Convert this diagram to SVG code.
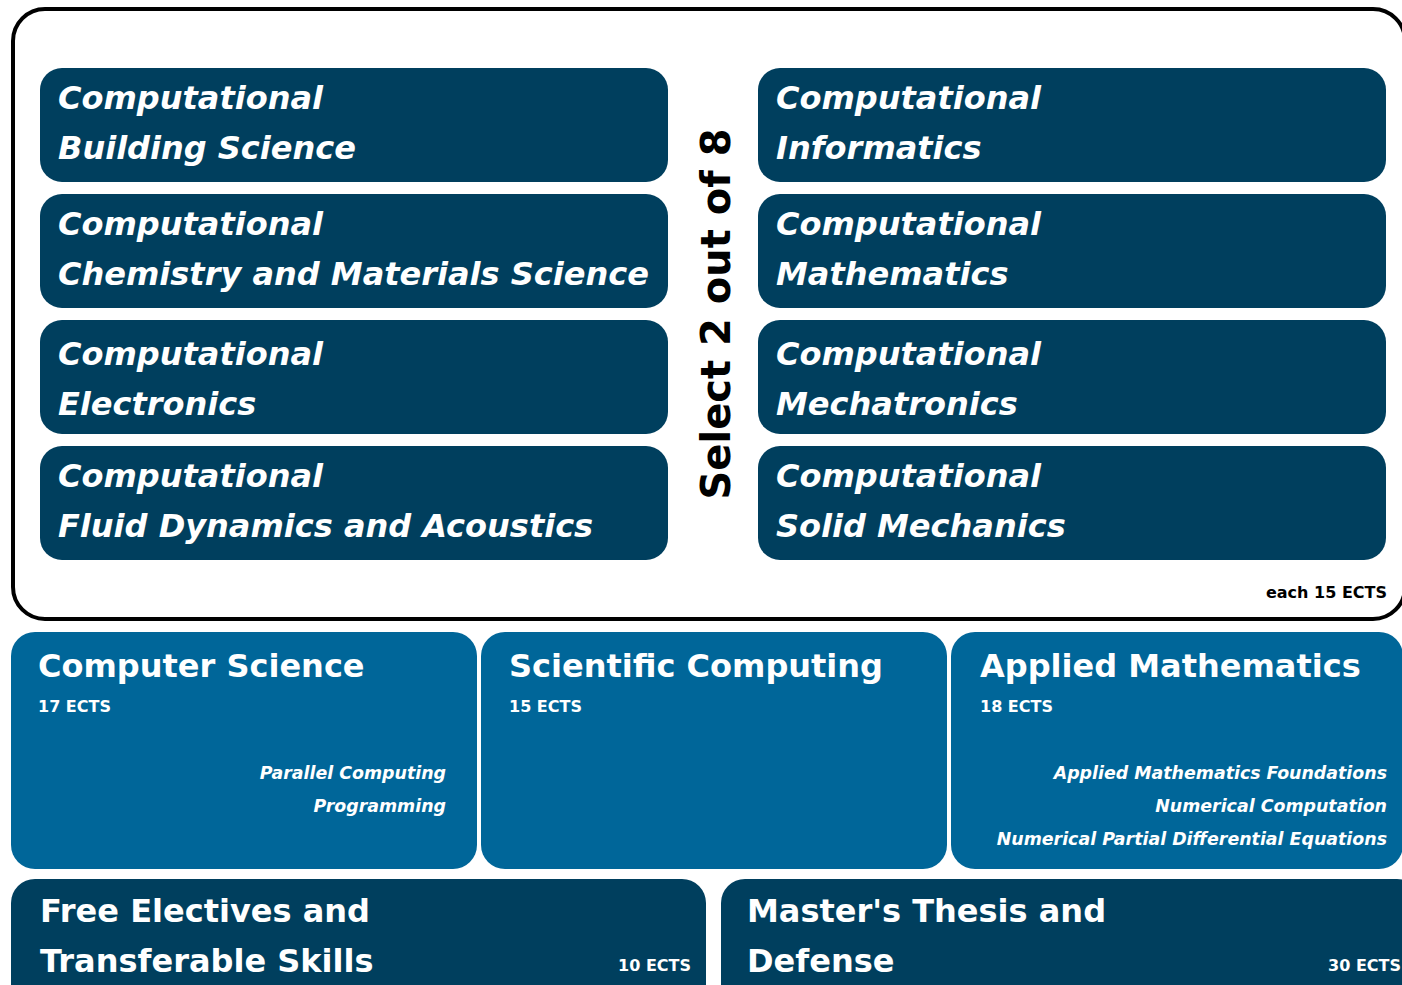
<svg xmlns="http://www.w3.org/2000/svg" width="1402" height="985" viewBox="0 0 1402 985">
  <style>
    text { font-family: "DejaVu Sans", "Liberation Sans", sans-serif; font-weight: bold; fill: #ffffff; }
    .track { fill: #003f5e; }
    .core { fill: #006699; }
    .ttl { font-size: 32px; font-style: italic; }
    .head { font-size: 32px; }
    .ects { font-size: 16px; }
    .course { font-size: 17.4px; font-style: italic; text-anchor: end; }
    .end { text-anchor: end; }
    .dark { fill: #000000; }
  </style>

  <rect width="1402" height="985" fill="#ffffff"/>

  <!-- elective frame -->
  <g id="electives-frame">
    <rect x="13" y="9" width="1392" height="610" rx="32" fill="none" stroke="#000000" stroke-width="4"/>
    <text class="dark" x="0" y="0" font-size="40" text-anchor="middle" transform="translate(730 314) rotate(-90)">Select 2 out of 8</text>
    <text class="dark ects end" x="1387" y="598">each 15 ECTS</text>
  </g>

  <!-- specialisation tracks, left column -->
  <g id="track-building">
    <rect class="track" x="40" y="68" width="628" height="114" rx="22"/>
    <text class="ttl" x="58" y="109">Computational</text>
    <text class="ttl" x="58" y="159">Building Science</text>
  </g>
  <g id="track-chemistry">
    <rect class="track" x="40" y="194" width="628" height="114" rx="22"/>
    <text class="ttl" x="58" y="235">Computational</text>
    <text class="ttl" x="58" y="285">Chemistry and Materials Science</text>
  </g>
  <g id="track-electronics">
    <rect class="track" x="40" y="320" width="628" height="114" rx="22"/>
    <text class="ttl" x="58" y="365">Computational</text>
    <text class="ttl" x="58" y="415">Electronics</text>
  </g>
  <g id="track-fluids">
    <rect class="track" x="40" y="446" width="628" height="114" rx="22"/>
    <text class="ttl" x="58" y="487">Computational</text>
    <text class="ttl" x="58" y="537">Fluid Dynamics and Acoustics</text>
  </g>

  <!-- specialisation tracks, right column -->
  <g id="track-informatics">
    <rect class="track" x="758" y="68" width="628" height="114" rx="22"/>
    <text class="ttl" x="776" y="109">Computational</text>
    <text class="ttl" x="776" y="159">Informatics</text>
  </g>
  <g id="track-mathematics">
    <rect class="track" x="758" y="194" width="628" height="114" rx="22"/>
    <text class="ttl" x="776" y="235">Computational</text>
    <text class="ttl" x="776" y="285">Mathematics</text>
  </g>
  <g id="track-mechatronics">
    <rect class="track" x="758" y="320" width="628" height="114" rx="22"/>
    <text class="ttl" x="776" y="365">Computational</text>
    <text class="ttl" x="776" y="415">Mechatronics</text>
  </g>
  <g id="track-solids">
    <rect class="track" x="758" y="446" width="628" height="114" rx="22"/>
    <text class="ttl" x="776" y="487">Computational</text>
    <text class="ttl" x="776" y="537">Solid Mechanics</text>
  </g>

  <!-- core modules -->
  <g id="core-cs">
    <rect class="core" x="11" y="632" width="466" height="237" rx="24"/>
    <text class="head" x="38" y="677">Computer Science</text>
    <text class="ects" x="38" y="712">17 ECTS</text>
    <text class="course" x="446" y="779">Parallel Computing</text>
    <text class="course" x="446" y="812">Programming</text>
  </g>
  <g id="core-sc">
    <rect class="core" x="481" y="632" width="466" height="237" rx="24"/>
    <text class="head" x="509" y="677">Scientific Computing</text>
    <text class="ects" x="509" y="712">15 ECTS</text>
  </g>
  <g id="core-am">
    <rect class="core" x="951" y="632" width="452" height="237" rx="24"/>
    <text class="head" x="980" y="677">Applied Mathematics</text>
    <text class="ects" x="980" y="712">18 ECTS</text>
    <text class="course" x="1387" y="779">Applied Mathematics Foundations</text>
    <text class="course" x="1387" y="812">Numerical Computation</text>
    <text class="course" x="1387" y="845">Numerical Partial Differential Equations</text>
  </g>

  <!-- remaining modules -->
  <g id="free-electives">
    <rect class="track" x="11" y="879" width="695" height="140" rx="24"/>
    <text class="head" x="40" y="922">Free Electives and</text>
    <text class="head" x="40" y="972">Transferable Skills</text>
    <text class="ects end" x="691" y="971">10 ECTS</text>
  </g>
  <g id="thesis">
    <rect class="track" x="721" y="879" width="700" height="140" rx="24"/>
    <text class="head" x="747" y="922">Master's Thesis and</text>
    <text class="head" x="747" y="972">Defense</text>
    <text class="ects end" x="1401" y="971">30 ECTS</text>
  </g>

  <g id="connectors"/>
</svg>
